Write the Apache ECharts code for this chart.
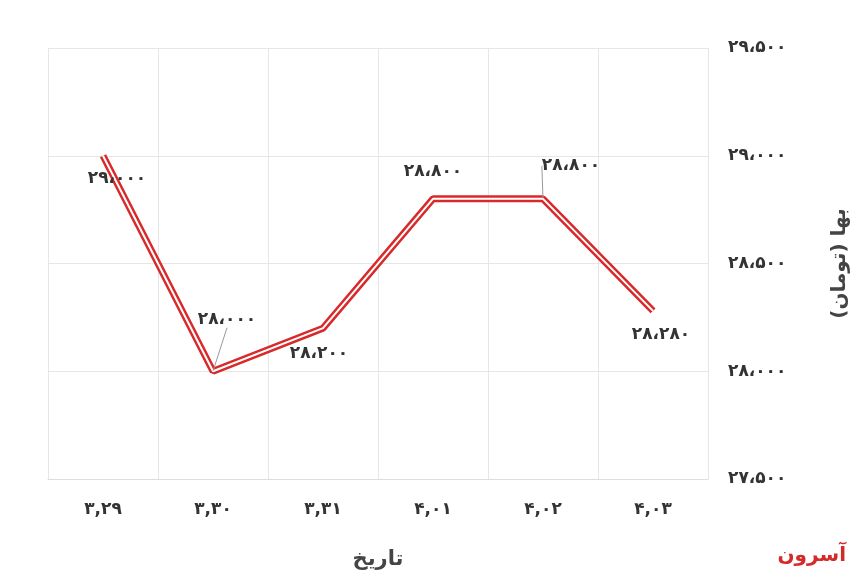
<!DOCTYPE html><html><head><meta charset="utf-8"><script src="https://cdn.jsdelivr.net/npm/echarts@6/dist/echarts.min.js"></script></head><body style="margin:0"><div id="c" style="width:860px;height:578px"></div><script>
const categories=['۳,۲۹','۳,۳۰','۳,۳۱','۴,۰۱','۴,۰۲','۴,۰۳'];
const prices=[29000,28000,28200,28800,28800,28280];
const labelOffsets=[[14,23],[14,-52],[-4,25],[0,-27],[28,-33],[8,24]];
const leaderLines=[false,true,false,false,true,false];
const fa=n=>{const s=String(n).replace(/\B(?=(\d{3})+(?!\d))/g,'،');return s.replace(/\d/g,d=>'۰۱۲۳۴۵۶۷۸۹'[d]);};
const ch=echarts.init(document.getElementById('c'));
const txt='#333';
ch.setOption({animation:false,textStyle:{fontFamily:'DejaVu Sans'},
grid:{left:48,right:152,top:48,bottom:99},
xAxis:{type:'category',data:categories,boundaryGap:true,name:'تاریخ',nameLocation:'middle',nameGap:70,nameTextStyle:{fontSize:21,color:'#444',fontWeight:'bold'},
axisLine:{lineStyle:{color:'#ddd'}},axisTick:{show:false},splitLine:{show:true,lineStyle:{color:'#e6e6e6'}},axisLabel:{color:txt,fontSize:17,fontWeight:'bold',margin:22}},
yAxis:{type:'value',position:'right',min:27500,max:29500,interval:500,name:'بها (تومان)',nameLocation:'middle',nameRotate:90,nameGap:122,nameTextStyle:{fontSize:20,color:'#444',fontWeight:'bold'},
axisLine:{show:false},axisTick:{show:false},splitLine:{lineStyle:{color:'#e6e6e6'}},axisLabel:{color:txt,fontSize:17,fontWeight:'bold',margin:20,formatter:v=>fa(v)}},
series:[{type:'line',data:prices,symbol:'none',lineStyle:{color:'#d82a2a',width:7},z:2},
{type:'line',data:prices.map((v,i)=>({value:v,labelLine:{show:leaderLines[i]}})),symbol:'circle',symbolSize:1,itemStyle:{color:'rgba(0,0,0,0)'},showSymbol:true,lineStyle:{color:'#fff',width:2},z:3,
label:{show:true,position:'inside',color:txt,fontSize:17,fontWeight:'bold',formatter:p=>fa(p.value)},
labelLine:{show:true,lineStyle:{color:'#999',width:1}},
labelLayout:p=>{const o=labelOffsets[p.dataIndex];return{dx:o[0],dy:o[1],hideOverlap:false};}}],
graphic:[{type:'text',right:14,bottom:12,style:{text:'آسرون',fill:'#d42a2a',font:'bold 20px DejaVu Sans'}}]
});
</script></body></html>
